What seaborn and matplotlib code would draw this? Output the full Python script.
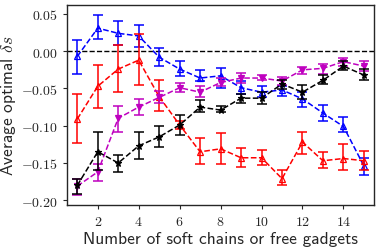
import numpy as np
import pandas as pd
import seaborn as sns
import matplotlib.pyplot as plt

n = list(range(1, 16))

# blue (open up-triangles)
blue_y = [-0.007, 0.031, 0.024, 0.0205, -0.008, -0.024, -0.036, -0.033, -0.049, -0.055, -0.052, -0.064, -0.083, -0.101, -0.154]
blue_lo = [-0.030, 0.016, 0.009, 0.005, -0.020, -0.033, -0.040, -0.049, -0.058, -0.062, -0.060, -0.075, -0.093, -0.109, -0.166]
blue_hi = [0.015, 0.049, 0.041, 0.035, 0.004, -0.013, -0.025, -0.022, -0.040, -0.047, -0.047, -0.055, -0.072, -0.088, -0.143]

# red (open up-triangles)
red_y = [-0.091, -0.047, -0.024, -0.012, -0.061, -0.099, -0.135, -0.131, -0.143, -0.143, -0.171, -0.122, -0.147, -0.144, -0.147]
red_lo = [-0.123, -0.076, -0.055, -0.046, -0.080, -0.105, -0.152, -0.151, -0.156, -0.153, -0.180, -0.138, -0.157, -0.160, -0.159]
red_hi = [-0.058, -0.019, 0.008, 0.023, -0.038, -0.093, -0.117, -0.110, -0.130, -0.133, -0.160, -0.108, -0.135, -0.125, -0.134]

# magenta
mag_y = [-0.181, -0.162, -0.090, -0.075, -0.062, -0.049, -0.055, -0.042, -0.036, -0.036, -0.040, -0.025, -0.023, -0.014, -0.020]
mag_lo = [-0.193, -0.174, -0.108, -0.086, -0.070, -0.055, -0.062, -0.047, -0.042, -0.039, -0.045, -0.030, -0.030, -0.020, -0.026]
mag_hi = [-0.172, -0.151, -0.073, -0.064, -0.053, -0.042, -0.047, -0.036, -0.029, -0.032, -0.034, -0.021, -0.017, -0.009, -0.013]

# black
blk_y = [-0.180, -0.135, -0.150, -0.127, -0.115, -0.099, -0.075, -0.079, -0.063, -0.063, -0.044, -0.055, -0.039, -0.020, -0.032]
blk_lo = [-0.192, -0.160, -0.162, -0.145, -0.129, -0.113, -0.082, -0.082, -0.070, -0.071, -0.051, -0.064, -0.044, -0.025, -0.039]
blk_hi = [-0.172, -0.109, -0.139, -0.109, -0.101, -0.086, -0.065, -0.074, -0.058, -0.055, -0.038, -0.046, -0.032, -0.013, -0.024]

sns.set_style("ticks")
plt.rcParams['mathtext.fontset'] = 'cm'

fig = plt.figure(figsize=(3.81, 2.51), dpi=100)
ax = fig.add_axes([0.176, 0.179, 0.806, 0.797])

series = [
    (blue_y, blue_lo, blue_hi, 'b', '^', 'none'),
    (red_y, red_lo, red_hi, 'r', '^', 'none'),
    (mag_y, mag_lo, mag_hi, 'm', 'v', 'm'),
    (blk_y, blk_lo, blk_hi, 'k', '*', 'k'),
]

ax.axhline(0, color='k', ls='--', lw=1)

for y, lo, hi, c, mk, fc in series:
    df = pd.DataFrame({'n': n, 'y': y})
    yerr = [np.array(y) - np.array(lo), np.array(hi) - np.array(y)]
    ax.errorbar(n, y, yerr=yerr, fmt='none', ecolor=c, elinewidth=1.1, capsize=3.5, capthick=1.1)
    sns.lineplot(data=df, x='n', y='y', ax=ax, color=c, marker=mk, markersize=4.5,
                 markerfacecolor=fc, markeredgecolor=c, markeredgewidth=0.9,
                 linestyle='--', lw=1.1)

ax.set_xlim(0.5, 15.5)
ax.set_ylim(-0.2065, 0.062)
ax.set_xticks([2, 4, 6, 8, 10, 12, 14])
ax.set_xticklabels([f'${v}$' for v in [2, 4, 6, 8, 10, 12, 14]], fontsize=10)
yt = [0.05, 0.0, -0.05, -0.10, -0.15, -0.20]
ax.set_yticks(yt)
ax.set_yticklabels([f'${v:.2f}$' for v in yt], fontsize=10)
ax.tick_params(length=3, width=0.8)
for s in ax.spines.values():
    s.set_linewidth(1)
ax.set_xlabel('Number of soft chains or free gadgets', fontsize=12.5, family='cmss10', labelpad=2)
ax.set_ylabel(r'Average optimal $\delta s$', fontsize=12.5, family='cmss10', labelpad=2)

fig.savefig('out.png', dpi=100)
